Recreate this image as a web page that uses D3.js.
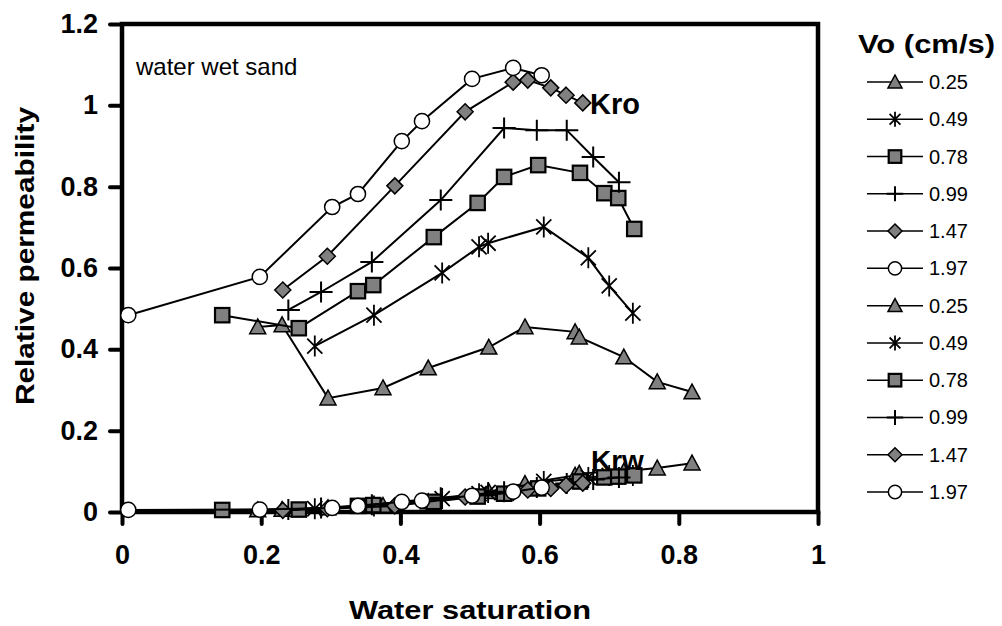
<!DOCTYPE html>
<html>
<head>
<meta charset="utf-8">
<script src="https://cdn.jsdelivr.net/npm/d3@7/dist/d3.min.js"></script>
<style>
  body { margin: 0; background: #fff; }
  svg { display: block; font-family: "Liberation Sans", Arial, sans-serif; }
</style>
</head>
<body>
<div class="chart"></div>
<script>
// ------------------------------------------------------
const xTicks = [ 0, 0.2, 0.4, 0.6, 0.8, 1 ];
const yTicks = [ 0, 0.2, 0.4, 0.6, 0.8, 1, 1.2 ];
const velocities = [ '0.25', '0.49', '0.78', '0.99', '1.47', '1.97' ];
const markerTypes = [ 'triangle', 'asterisk', 'square', 'plus', 'diamond', 'circle' ];
// ------------------------------------------------------
// water saturation per run, with oil (Kro) and water (Krw) relative permeability
const sw025 = [ 0.195, 0.23, 0.296, 0.375, 0.44, 0.527, 0.579, 0.651, 0.657, 0.721, 0.769, 0.819 ];
const kro025 = [ 0.455, 0.46, 0.28, 0.305, 0.354, 0.405, 0.455, 0.443, 0.43, 0.381, 0.32, 0.295 ];
const krw025 = [ 0.005, 0.006, 0.01, 0.016, 0.025, 0.05, 0.07, 0.09, 0.095, 0.1, 0.108, 0.12 ];

const sw049 = [ 0.277, 0.362, 0.46, 0.513, 0.526, 0.606, 0.67, 0.70, 0.734 ];
const kro049 = [ 0.408, 0.484, 0.588, 0.652, 0.661, 0.701, 0.625, 0.556, 0.489 ];
const krw049 = [ 0.008, 0.015, 0.033, 0.045, 0.048, 0.075, 0.085, 0.09, 0.09 ];

const sw078 = [ 0.144, 0.254, 0.339, 0.361, 0.448, 0.511, 0.549, 0.598, 0.658, 0.693, 0.713, 0.736 ];
const kro078 = [ 0.484, 0.452, 0.543, 0.558, 0.676, 0.76, 0.824, 0.853, 0.834, 0.784, 0.772, 0.696 ];
const krw078 = [ 0.005, 0.006, 0.015, 0.017, 0.025, 0.038, 0.045, 0.058, 0.075, 0.085, 0.087, 0.09 ];

const sw099 = [ 0.239, 0.286, 0.359, 0.458, 0.549, 0.596, 0.639, 0.677, 0.714 ];
const kro099 = [ 0.497, 0.541, 0.615, 0.767, 0.944, 0.939, 0.939, 0.873, 0.811 ];
const krw099 = [ 0.006, 0.01, 0.018, 0.035, 0.05, 0.06, 0.07, 0.08, 0.085 ];

const sw147 = [ 0.231, 0.295, 0.392, 0.493, 0.562, 0.583, 0.616, 0.638, 0.662 ];
const kro147 = [ 0.546, 0.629, 0.802, 0.984, 1.057, 1.062, 1.043, 1.025, 1.006 ];
const krw147 = [ 0.004, 0.008, 0.015, 0.037, 0.048, 0.054, 0.058, 0.066, 0.071 ];

const sw197 = [ 0.009, 0.198, 0.302, 0.339, 0.402, 0.431, 0.503, 0.562, 0.603 ];
const kro197 = [ 0.484, 0.578, 0.75, 0.782, 0.912, 0.961, 1.065, 1.092, 1.074 ];
const krw197 = [ 0.005, 0.006, 0.01, 0.015, 0.025, 0.028, 0.04, 0.05, 0.06 ];
// ------------------------------------------------------
const width = 1002;
const height = 626;
const margin = { left: 122, right: 184, top: 24, bottom: 114 };
const grey = '#808080';

const swRuns = [ sw025, sw049, sw078, sw099, sw147, sw197 ];
const kroRuns = [ kro025, kro049, kro078, kro099, kro147, kro197 ];
const krwRuns = [ krw025, krw049, krw078, krw099, krw147, krw197 ];

function pairs( xs, ys ) {
    return xs.map( function ( x, i ) { return [ x, ys[i] ]; } );
}

// Kro runs first, then Krw runs, same order as the legend
const series = [];
velocities.forEach( function ( v, i ) {
    series.push( { label: v, marker: markerTypes[i], points: pairs( swRuns[i], kroRuns[i] ) } );
});
velocities.forEach( function ( v, i ) {
    series.push( { label: v, marker: markerTypes[i], points: pairs( swRuns[i], krwRuns[i] ) } );
});
// ------------------------------------------------------
function drawMarker( g, type, s ) {
    // s = nominal marker size in px
    const h = s / 2;
    if ( type === 'triangle' ) {
        g.append( 'path' )
            .attr( 'd', 'M0,' + ( -h ) + 'L' + h + ',' + ( h * 0.85 ) + 'L' + ( -h ) + ',' + ( h * 0.85 ) + 'Z' )
            .attr( 'fill', grey ).attr( 'stroke', '#000' ).attr( 'stroke-width', 1.5 );
    } else if ( type === 'square' ) {
        g.append( 'rect' )
            .attr( 'x', -h * 0.9 ).attr( 'y', -h * 0.9 )
            .attr( 'width', s * 0.9 ).attr( 'height', s * 0.9 )
            .attr( 'fill', grey ).attr( 'stroke', '#000' ).attr( 'stroke-width', 2.2 );
    } else if ( type === 'diamond' ) {
        g.append( 'path' )
            .attr( 'd', 'M0,' + ( -h ) + 'L' + h + ',0L0,' + h + 'L' + ( -h ) + ',0Z' )
            .attr( 'fill', grey ).attr( 'stroke', '#000' ).attr( 'stroke-width', 1.5 );
    } else if ( type === 'circle' ) {
        g.append( 'circle' )
            .attr( 'r', h * 0.95 )
            .attr( 'fill', '#fff' ).attr( 'stroke', '#000' ).attr( 'stroke-width', 1.5 );
    } else if ( type === 'asterisk' ) {
        const a = h * 0.72;
        g.append( 'path' )
            .attr( 'd', 'M0,' + ( -h ) + 'V' + h +
                'M' + ( -a ) + ',' + ( -a ) + 'L' + a + ',' + a +
                'M' + a + ',' + ( -a ) + 'L' + ( -a ) + ',' + a )
            .attr( 'fill', 'none' ).attr( 'stroke', '#000' ).attr( 'stroke-width', 1.8 );
    } else if ( type === 'plus' ) {
        g.append( 'path' )
            .attr( 'd', 'M0,' + ( -h ) + 'V' + h + 'M' + ( -h * 1.1 ) + ',0H' + ( h * 1.1 ) )
            .attr( 'fill', 'none' ).attr( 'stroke', '#000' ).attr( 'stroke-width', 2 );
    }
}
// ------------------------------------------------------
window.addEventListener( 'load', function () {
    const svg = d3.select( '.chart' )
        .append( 'svg' )
        .attr( 'width', width )
        .attr( 'height', height );

    const x = d3.scaleLinear()
        .domain( [ 0, 1 ] )
        .range( [ margin.left, width - margin.right ] );
    const y = d3.scaleLinear()
        .domain( [ 0, 1.2 ] )
        .range( [ height - margin.bottom, margin.top ] );

    // --------------------------------------------------
    // frame
    svg.append( 'rect' )
        .attr( 'x', x( 0 ) ).attr( 'y', y( 1.2 ) )
        .attr( 'width', x( 1 ) - x( 0 ) ).attr( 'height', y( 0 ) - y( 1.2 ) )
        .attr( 'fill', 'none' ).attr( 'stroke', '#000' ).attr( 'stroke-width', 4.5 );

    // axes
    const fmt = d3.format( '~g' );
    const xAxis = svg.append( 'g' )
        .attr( 'transform', 'translate(0,' + y( 0 ) + ')' )
        .call( d3.axisBottom( x ).tickValues( xTicks ).tickFormat( fmt ).tickSize( 12 ).tickPadding( 21 ) );
    const yAxis = svg.append( 'g' )
        .attr( 'transform', 'translate(' + x( 0 ) + ',0)' )
        .call( d3.axisLeft( y ).tickValues( yTicks ).tickFormat( fmt ).tickSize( 12 ).tickPadding( 12 ) );
    [ xAxis, yAxis ].forEach( function ( ax ) {
        ax.select( '.domain' ).remove();
        ax.selectAll( '.tick line' )
            .attr( 'stroke', '#000' ).attr( 'stroke-width', 4 ).attr( 'stroke-linecap', 'round' );
        ax.selectAll( '.tick text' )
            .attr( 'fill', '#000' )
            .attr( 'font-family', '"Liberation Sans", Arial, sans-serif' )
            .attr( 'font-size', 27 )
            .attr( 'font-weight', 'bold' );
    });

    // axis titles
    svg.append( 'text' )
        .attr( 'x', ( x( 0 ) + x( 1 ) ) / 2 )
        .attr( 'y', 619 )
        .attr( 'text-anchor', 'middle' )
        .attr( 'font-size', 25 ).attr( 'font-weight', 'bold' )
        .attr( 'textLength', 242 ).attr( 'lengthAdjust', 'spacingAndGlyphs' )
        .text( 'Water saturation' );
    svg.append( 'text' )
        .attr( 'transform', 'translate(34,' + 256 + ') rotate(-90)' )
        .attr( 'text-anchor', 'middle' )
        .attr( 'font-size', 25 ).attr( 'font-weight', 'bold' )
        .attr( 'textLength', 298 ).attr( 'lengthAdjust', 'spacingAndGlyphs' )
        .text( 'Relative permeability' );

    // --------------------------------------------------
    const line = d3.line()
        .x( function ( d ) { return x( d[0] ); } )
        .y( function ( d ) { return y( d[1] ); } );

    const plotGroup = svg.append( 'g' ).classed( 'plot-group', true );
    series.forEach( function ( s ) {
        const g = plotGroup.append( 'g' );
        g.append( 'path' )
            .attr( 'd', line( s.points ) )
            .attr( 'fill', 'none' ).attr( 'stroke', '#000' ).attr( 'stroke-width', 2 );
        s.points.forEach( function ( p ) {
            const m = g.append( 'g' )
                .attr( 'transform', 'translate(' + x( p[0] ) + ',' + y( p[1] ) + ')' );
            drawMarker( m, s.marker, s.marker === 'plus' || s.marker === 'asterisk' ? 21 : 16 );
        });
    });

    // annotations
    svg.append( 'text' )
        .attr( 'x', 136 ).attr( 'y', 75 )
        .attr( 'font-size', 24 )
        .text( 'water wet sand' );
    svg.append( 'text' )
        .attr( 'x', 590 ).attr( 'y', 114 )
        .attr( 'font-size', 29 ).attr( 'font-weight', 'bold' )
        .text( 'Kro' );
    svg.append( 'text' )
        .attr( 'x', 591 ).attr( 'y', 470 )
        .attr( 'font-size', 28 ).attr( 'font-weight', 'bold' )
        .text( 'Krw' );

    // --------------------------------------------------
    // legend
    const legend = svg.append( 'g' ).classed( 'legend', true );
    legend.append( 'text' )
        .attr( 'x', 858 ).attr( 'y', 53 )
        .attr( 'font-size', 25 ).attr( 'font-weight', 'bold' )
        .attr( 'textLength', 137 ).attr( 'lengthAdjust', 'spacingAndGlyphs' )
        .text( 'Vo (cm/s)' );
    const rowY = d3.scaleLinear().domain( [ 0, 11 ] ).range( [ 82, 492 ] );
    series.forEach( function ( s, i ) {
        const row = legend.append( 'g' )
            .attr( 'transform', 'translate(0,' + rowY( i ) + ')' );
        row.append( 'line' )
            .attr( 'x1', 867 ).attr( 'x2', 923 )
            .attr( 'stroke', '#000' ).attr( 'stroke-width', 1.5 );
        const m = row.append( 'g' ).attr( 'transform', 'translate(895,0)' );
        drawMarker( m, s.marker, s.marker === 'plus' || s.marker === 'asterisk' ? 15 : 14 );
        row.append( 'text' )
            .attr( 'x', 929 ).attr( 'y', 7 )
            .attr( 'font-size', 20 )
            .text( s.label );
    });
}, false );
</script>
</body>
</html>
